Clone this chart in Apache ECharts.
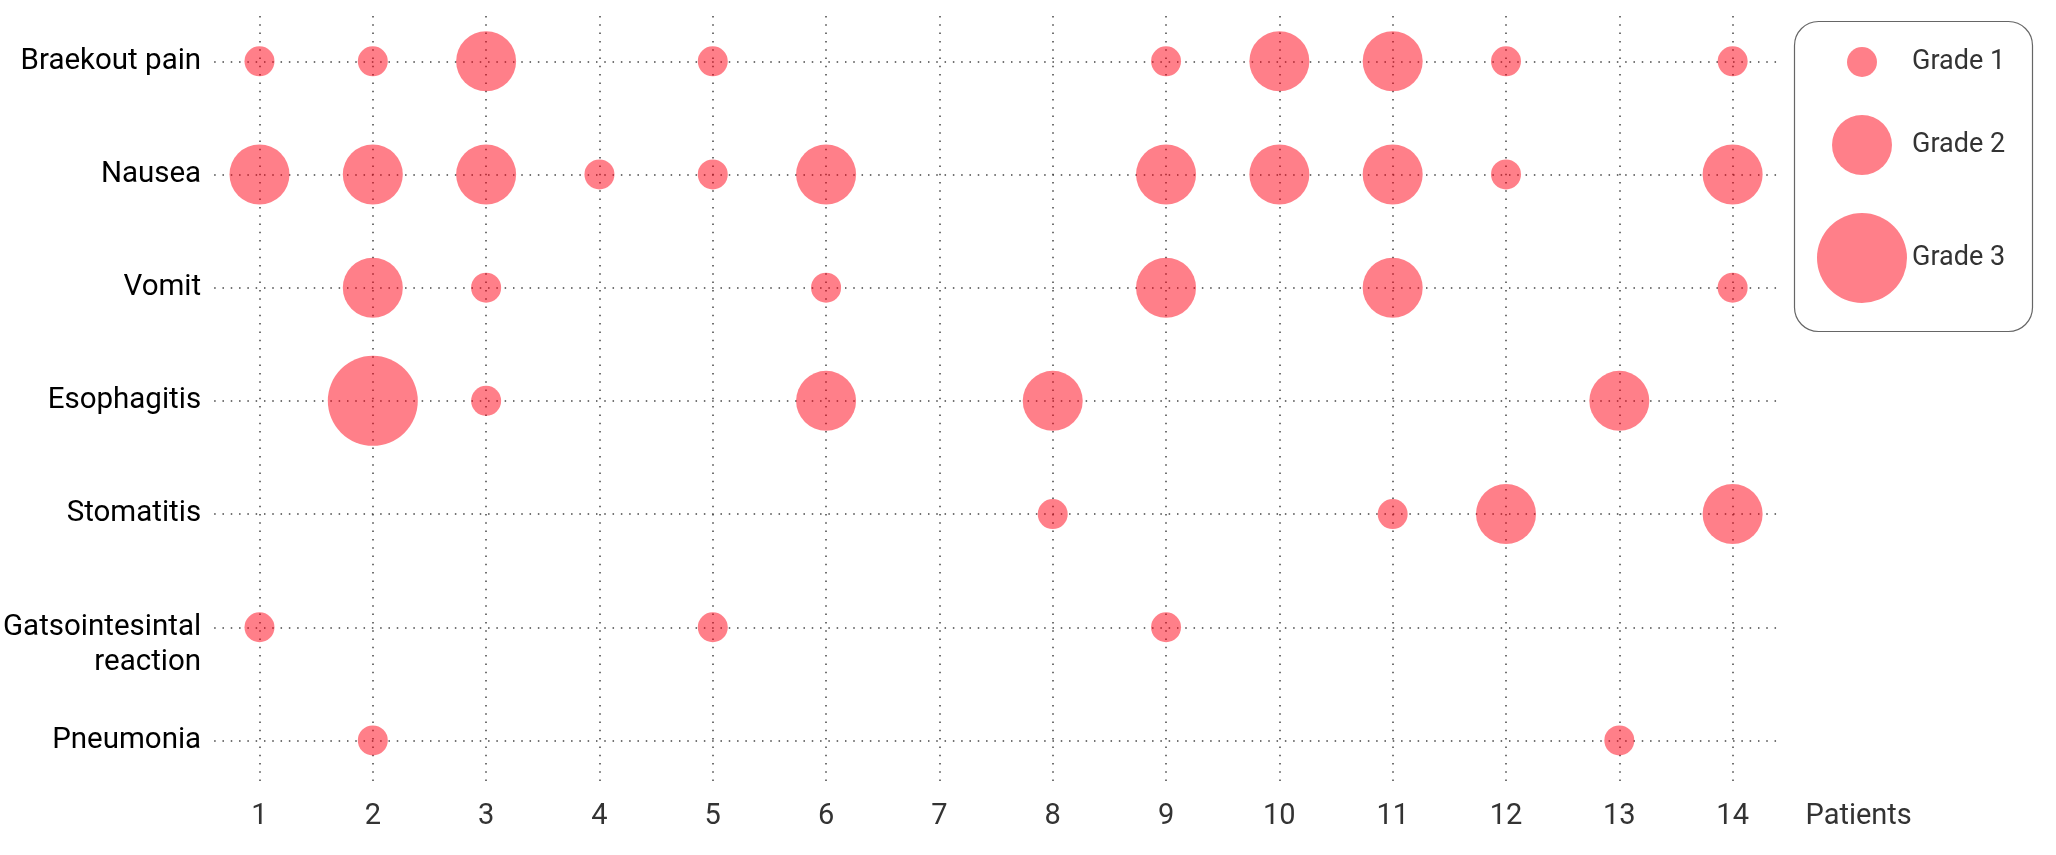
<!DOCTYPE html>
<html>
<head>
<meta charset="utf-8">
<script src="https://cdn.jsdelivr.net/npm/echarts@6/dist/echarts.min.js"></script>
<style>
html,body{margin:0;padding:0;background:#fff;}
#chart{width:2056px;height:855px;}
</style>
</head>
<body>
<div id="chart"></div>
<script>
// ---- data ----
const patients = [1, 2, 3, 4, 5, 6, 7, 8, 9, 10, 11, 12, 13, 14];
const symptoms = ['Braekout pain', 'Nausea', 'Vomit', 'Esophagitis', 'Stomatitis', 'Gatsointesintal\nreaction', 'Pneumonia'];
const gradeNames = ['Grade 1', 'Grade 2', 'Grade 3'];
// grade per patient (1..14), 0 = none
const braekoutPain   = [1, 1, 2, 0, 1, 0, 0, 0, 1, 2, 2, 1, 0, 1];
const nausea         = [2, 2, 2, 1, 1, 2, 0, 0, 2, 2, 2, 1, 0, 2];
const vomit          = [0, 2, 1, 0, 0, 1, 0, 0, 2, 0, 2, 0, 0, 1];
const esophagitis    = [0, 3, 1, 0, 0, 2, 0, 2, 0, 0, 0, 0, 2, 0];
const stomatitis     = [0, 0, 0, 0, 0, 0, 0, 1, 0, 0, 1, 2, 0, 2];
const gastro         = [1, 0, 0, 0, 1, 0, 0, 0, 1, 0, 0, 0, 0, 0];
const pneumonia      = [0, 1, 0, 0, 0, 0, 0, 0, 0, 0, 0, 0, 1, 0];
const gradeRows = [braekoutPain, nausea, vomit, esophagitis, stomatitis, gastro, pneumonia];

// ---- build ----
const rowIdx = symptoms.map((_, i) => i + 1);
const unit = 30;
const bubbleColor = 'rgba(255, 0, 20, 0.5)';
const dotLine = { color: '#444', width: 1.5, type: [1.5, 6.8] };
const font = 'Roboto';

const series = gradeNames.map((name, gi) => {
  const g = gi + 1;
  const data = [];
  gradeRows.forEach((row, ri) => {
    row.forEach((v, pi) => { if (v === g) data.push([patients[pi], ri + 1]); });
  });
  return {
    name: name,
    type: 'scatter',
    symbol: 'circle',
    symbolSize: g * unit,
    itemStyle: { color: bubbleColor, opacity: 1 },
    emphasis: { disabled: true },
    data: data
  };
});

const legendCenterX = 1862;
const legendCenterY = [62, 145, 258];
const legends = gradeNames.map((name, gi) => {
  const size = (gi + 1) * unit;
  return {
    data: [name],
    orient: 'vertical',
    left: legendCenterX - size / 2,
    top: legendCenterY[gi] - size / 2,
    padding: 0,
    itemWidth: size,
    itemHeight: size,
    icon: 'circle',
    selectedMode: false,
    textStyle: { fontFamily: font, fontSize: 27, color: '#333', padding: [0, 0, 0, (3 * unit - size) / 2] }
  };
});

const chart = echarts.init(document.getElementById('chart'), null, { renderer: 'canvas' });
chart.setOption({
  backgroundColor: '#fff',
  animation: false,
  textStyle: { fontFamily: font },
  grid: { left: 214, right: 273.5, top: 16, bottom: 67, containLabel: false },
  legend: legends,
  graphic: [{
    type: 'rect',
    left: 1792, top: 19,
    shape: { width: 238, height: 310, r: 24 },
    style: { fill: 'none', stroke: '#666', lineWidth: 1.2 },
    silent: true
  }],
  xAxis: {
    type: 'value',
    min: 0.6,
    max: 14.44,
    name: 'Patients',
    nameLocation: 'end',
    nameGap: 23,
    nameTextStyle: { fontFamily: font, fontSize: 29, color: '#333', verticalAlign: 'top', padding: [14, 0, 0, 0] },
    axisLine: { show: false },
    axisTick: { show: false, customValues: patients },
    axisLabel: { customValues: patients, fontFamily: font, fontSize: 29, color: '#333', margin: 14 },
    splitLine: { show: true, lineStyle: dotLine }
  },
  yAxis: {
    type: 'value',
    inverse: true,
    min: 0.6,
    max: 7.42,
    axisLine: { show: false },
    axisTick: { show: false, customValues: rowIdx },
    axisLabel: {
      customValues: rowIdx,
      fontFamily: font, fontSize: 29.5, color: '#000', margin: 13, lineHeight: 35,
      formatter: v => {
        const s = symptoms[v - 1] || '';
        return s.indexOf('\n') >= 0 ? '\n' + s : s;
      }
    },
    splitLine: { show: true, lineStyle: dotLine }
  },
  series: series
});
</script>
</body>
</html>
